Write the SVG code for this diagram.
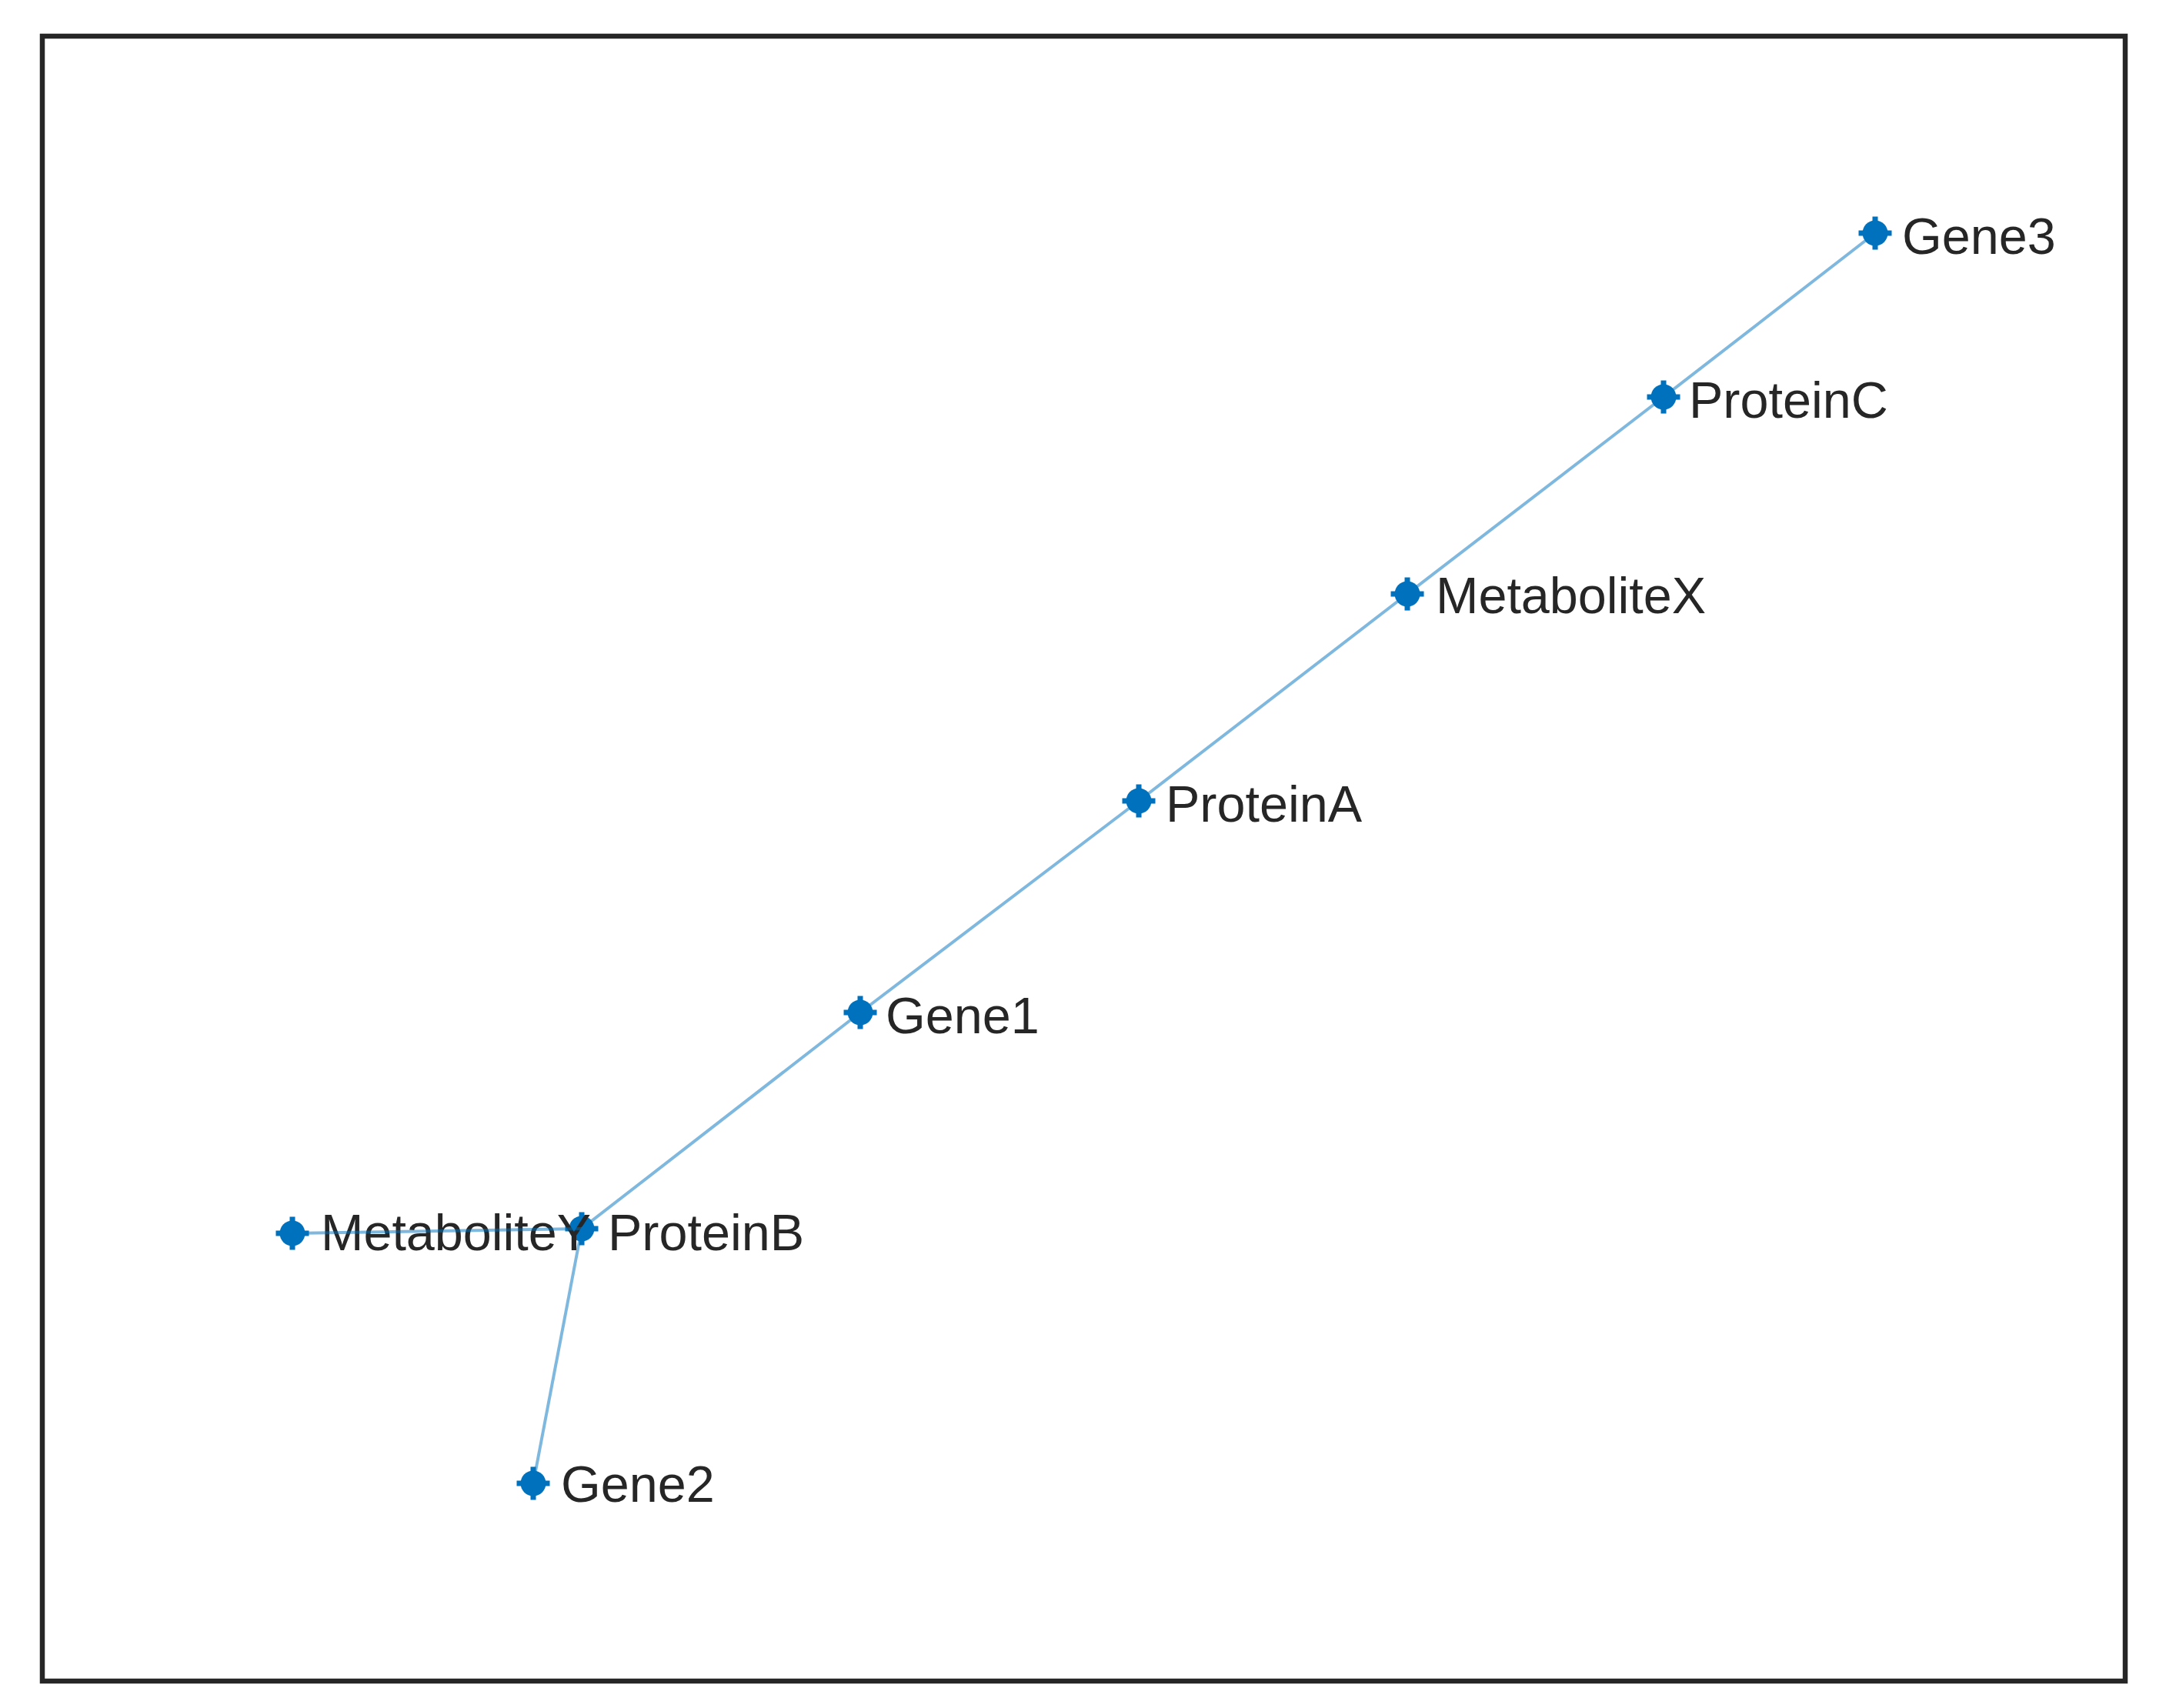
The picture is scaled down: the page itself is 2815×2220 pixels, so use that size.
<svg xmlns="http://www.w3.org/2000/svg" width="2815" height="2220" viewBox="0 0 2815 2220">
  <style>
    .lbl { font-family: "Liberation Sans", Arial, sans-serif; font-size: 66.5px; fill: #262626; }
    .edge { stroke: #0072BD; stroke-opacity: 0.5; stroke-width: 4; fill: none; }
    .frame { fill: #ffffff; stroke: #262626; stroke-width: 6.5; }
  </style>
  <defs>
    <g id="mk">
      <circle cx="0" cy="0" r="16.5" fill="#0072BD"/>
      <rect x="-21.5" y="-3.5" width="43" height="7" fill="#0072BD"/>
      <rect x="-3.5" y="-21.5" width="7" height="43" fill="#0072BD"/>
    </g>
  </defs>
  <rect width="2815" height="2220" fill="#ffffff"/>
  <rect class="frame" x="55" y="47" width="2707" height="2138"/>

  <g id="node-Gene3"><use href="#mk" x="2437" y="303"/><text class="lbl" x="2472" y="330">Gene3</text></g>
  <g id="node-ProteinC"><use href="#mk" x="2162" y="516"/><text class="lbl" x="2195" y="543">ProteinC</text></g>
  <g id="node-MetaboliteX"><use href="#mk" x="1829" y="772"/><text class="lbl" x="1866" y="797">MetaboliteX</text></g>
  <g id="node-ProteinA"><use href="#mk" x="1480" y="1041"/><text class="lbl" x="1515" y="1068">ProteinA</text></g>
  <g id="node-Gene1"><use href="#mk" x="1118" y="1316"/><text class="lbl" x="1151" y="1343">Gene1</text></g>
  <g id="node-ProteinB"><use href="#mk" x="756" y="1597"/><text class="lbl" x="790" y="1625">ProteinB</text></g>
  <g id="node-MetaboliteY"><use href="#mk" x="380" y="1603"/><text class="lbl" x="417" y="1625">MetaboliteY</text></g>
  <g id="node-Gene2"><use href="#mk" x="693" y="1928"/><text class="lbl" x="729" y="1952">Gene2</text></g>

  <g id="edges">
    <line class="edge" x1="2437" y1="303" x2="2162" y2="516"/>
    <line class="edge" x1="2162" y1="516" x2="1829" y2="772"/>
    <line class="edge" x1="1829" y1="772" x2="1480" y2="1041"/>
    <line class="edge" x1="1480" y1="1041" x2="1118" y2="1316"/>
    <line class="edge" x1="1118" y1="1316" x2="756" y2="1597"/>
    <line class="edge" x1="756" y1="1597" x2="380" y2="1603"/>
    <line class="edge" x1="756" y1="1597" x2="693" y2="1928"/>
  </g>
</svg>
